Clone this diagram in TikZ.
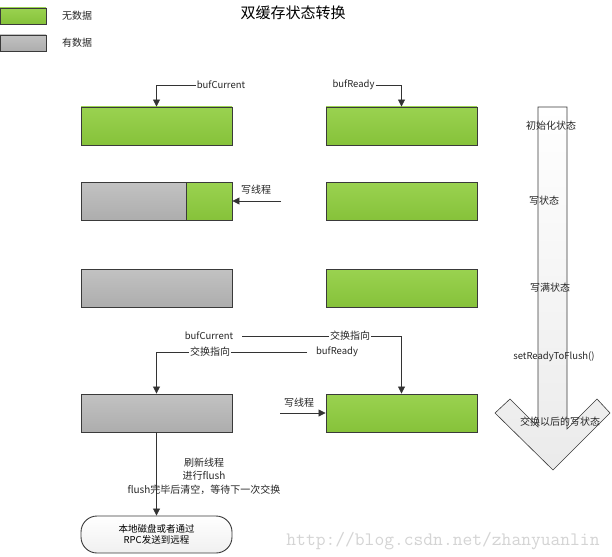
\documentclass[tikz,border=0pt]{standalone}
\usepackage{fontspec}
\setmainfont{Noto Sans CJK SC}
\usetikzlibrary{arrows.meta}
\definecolor{gtop}{HTML}{9AD250}
\definecolor{gbot}{HTML}{86C23A}
\definecolor{ytop}{HTML}{C2C2C2}
\definecolor{ybot}{HTML}{ADADAD}
\definecolor{edge}{HTML}{3A3A3A}
\definecolor{linec}{HTML}{333333}
\tikzset{
  box/.style={draw=edge, line width=0.9pt, inner sep=0pt, minimum height=38pt},
  gbox/.style={box, top color=gtop, bottom color=gbot},
  ybox/.style={box, top color=ytop, bottom color=ybot},
  lab/.style={font=\fontsize{9.5}{11}\selectfont, inner sep=1pt, text=black!85},
  cn/.style={font=\fontsize{10}{12}\selectfont, inner sep=1pt, text=black!85},
  arr/.style={draw=linec, line width=0.8pt, -{Triangle[width=7pt,length=7pt]}},
}
\begin{document}
\begin{tikzpicture}[x=1pt,y=-1pt]
\fill[white] (0,0) rectangle (612,556);
\useasboundingbox (0,0) rectangle (612,556);

% watermark
\node[text=black!17, font=\fontsize{19}{19}\ttfamily, inner sep=0pt] (wm) at (443,541) {http://blog.csdn.net/zhanyuanlin};

% legend
\node[gbox, minimum width=46pt, minimum height=16pt] (lg) at (23,16) {};
\node[ybox, minimum width=46pt, minimum height=16pt] (ly) at (23,43) {};
\node[cn] (lgt) at (77,16) {无数据};
\node[cn] (lyt) at (77,43) {有数据};

% title
\node[font=\fontsize{15}{17}\selectfont, inner sep=0pt] (title) at (293,13) {双缓存状态转换};

% big state arrow
\draw[draw=edge, line width=0.6pt, top color=white, bottom color=black!8]
  (538,107) -- (538,427) -- (510,399) -- (495,413) -- (553,470) -- (610,413)
  -- (597,399) -- (567,429) -- (567,107) -- cycle;
\node[cn] (s1) at (551,126) {初始化状态};
\node[cn] (s2) at (544,201) {写状态};
\node[cn] (s3) at (550,288) {写满状态};
\node[lab] (s4) at (554,357) {setReadyToFlush()};
\node[cn] (s5) at (560,422) {交换以后的写状态};

% row 1
\node[gbox, minimum width=151pt] (b1l) at (156.5,126) {};
\node[gbox, minimum width=151pt] (b1r) at (401.5,126) {};
\node[lab] (cur1) at (221,85) {bufCurrent};
\node[lab] (rdy1) at (353.5,85) {bufReady};
\draw[arr] (cur1.west) -| (b1l.north);
\draw[arr] (rdy1.east) -| (b1r.north);

% row 2
\node[ybox, minimum width=105pt] (b2l) at (133.5,201) {};
\node[gbox, minimum width=46pt] (b2lg) at (209,201) {};
\node[gbox, minimum width=151pt] (b2r) at (401.5,201) {};
\node[cn] (w2) at (256,190) {写线程};
\coordinate (w2s) at (281,201);
\draw[arr] (w2s) -- (b2lg.east);

% row 3
\node[ybox, minimum width=151pt] (b3l) at (156.5,288) {};
\node[gbox, minimum width=151pt] (b3r) at (401.5,288) {};

% row 4
\node[ybox, minimum width=151pt] (b4l) at (156.5,413) {};
\node[gbox, minimum width=151pt] (b4r) at (401.5,413) {};
\node[lab] (cur2) at (209,336) {bufCurrent};
\node[lab] (rdy2) at (337,352) {bufReady};
\coordinate (c2s) at (242,336);
\coordinate (r2s) at (307,352);
\draw[arr] (c2s) -| node[cn, fill=white, pos=0.339] (sw1) {交换指向} (b4r.north);
\draw[arr] (r2s) -| node[cn, fill=white, pos=0.322] (sw2) {交换指向} (b4l.north);
\node[cn] (w4) at (299,403) {写线程};
\coordinate (w4s) at (280,413);
\draw[arr] (w4s) -- (b4r.west);

% flush
\node[draw=edge, line width=0.9pt, rounded corners=16pt, top color=white, bottom color=black!6,
      minimum width=151pt, minimum height=37pt, align=center, inner sep=0pt,
      font=\fontsize{9.5}{11.5}\selectfont] (end) at (156.5,534.5) {本地磁盘或者通过\\RPC发送到远程};
\draw[arr] (b4l.south) -- (end.north);
\node[cn, align=center, font=\fontsize{10}{13.5}\selectfont] (ft) at (204,476) {刷新线程\\进行flush\\flush完毕后清空，等待下一次交换};
\end{tikzpicture}
\end{document}
